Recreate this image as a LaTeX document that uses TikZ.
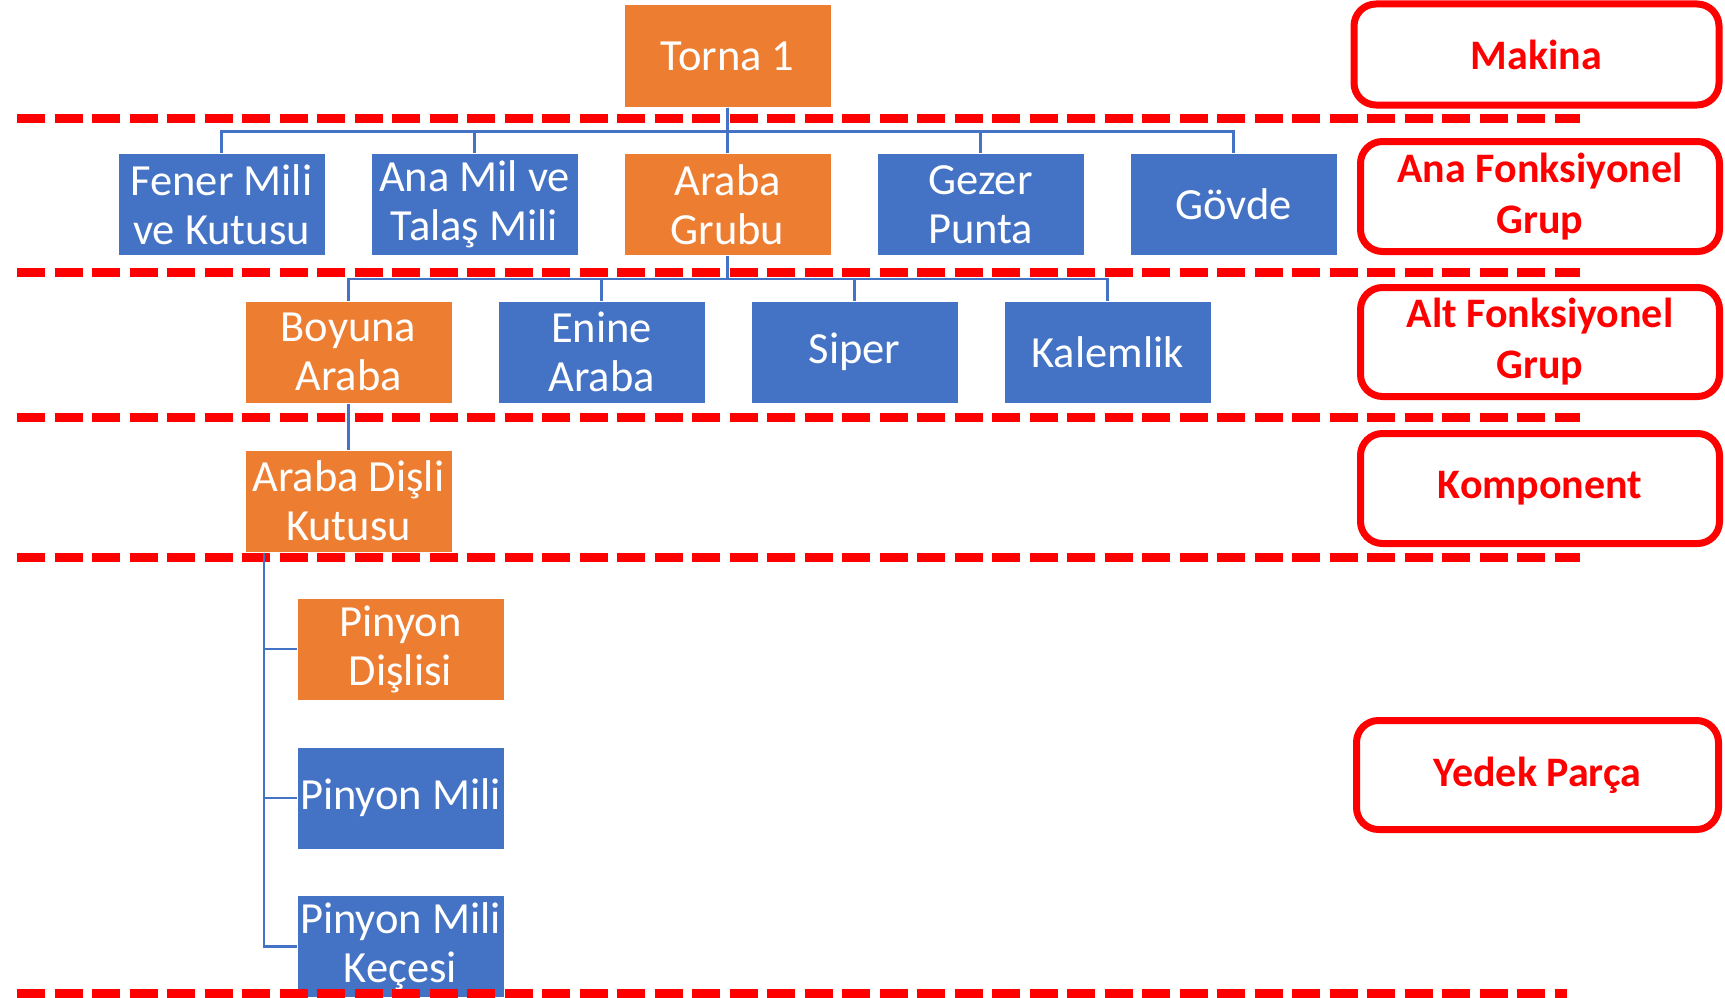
\documentclass[tikz,border=0pt]{standalone}
\usepackage{fontspec}
\setmainfont{Carlito}
\definecolor{orng}{HTML}{ED7D31}
\definecolor{blu}{HTML}{4472C4}
\definecolor{rd}{HTML}{FF0000}
\begin{document}
\begin{tikzpicture}[x=1pt,y=-1pt,
  box/.style={rectangle,draw=white,line width=1pt,minimum width=207pt,minimum height=102pt,inner sep=0pt,align=center,text=white,font=\fontsize{44.5}{49}\selectfont},
  obox/.style={box,fill=orng},
  bbox/.style={box,fill=blu},
  lbl/.style={rectangle,rounded corners=22pt,draw=rd,line width=7pt,inner sep=0pt,align=center,text=rd,font=\fontsize{42}{51}\selectfont\bfseries},
  sep/.style={draw=rd,line width=9pt,dash pattern=on 28pt off 9.5pt},
  conn/.style={draw=blu,line width=2.5pt}]
\useasboundingbox (0,0) rectangle (1725,998);
% level 0
\node[obox] (torna) at (727.5,56) {Torna 1};
% level 1
\node[bbox] (fener) at (221.5,204.5) {Fener Mili\\ve Kutusu};
\node[bbox] (anamil) at (474.5,204.5) {Ana Mil ve\\Talaş Mili};
\node[obox] (araba) at (727.5,204.5) {Araba\\Grubu};
\node[bbox] (gezer) at (980.5,204.5) {Gezer\\Punta};
\node[bbox] (govde) at (1233.5,204.5) {Gövde};
% level 2
\node[obox] (boyuna) at (348.5,352) {Boyuna\\Araba};
\node[bbox] (enine) at (601.5,352) {Enine\\Araba};
\node[bbox] (siper) at (854.5,352) {Siper};
\node[bbox] (kalem) at (1107.5,352) {Kalemlik};
% level 3
\node[obox] (adk) at (348.5,501) {Araba Dişli\\Kutusu};
% level 4
\node[obox] (pd) at (400.5,649) {Pinyon\\Dişlisi};
\node[bbox] (pm) at (400.5,798) {Pinyon Mili};
\node[bbox] (pk) at (400.5,946.5) {Pinyon Mili\\Keçesi};
% labels
\node[lbl,minimum width=365pt,minimum height=101pt] (makina) at (1536.5,54.5) {Makina};
\node[lbl,minimum width=359pt,minimum height=110pt] (anaf) at (1540,196.5) {Ana Fonksiyonel\\Grup};
\node[lbl,minimum width=359pt,minimum height=109pt] (altf) at (1540,342) {Alt Fonksiyonel\\Grup};
\node[lbl,minimum width=359pt,minimum height=110pt] (komp) at (1540,488.5) {Komponent};
\node[lbl,minimum width=362pt,minimum height=109pt] (yedek) at (1537.5,775) {Yedek Parça};
% separators
\coordinate (s1a) at (17,118); \coordinate (s1b) at (1580,118);
\coordinate (s2a) at (17,272); \coordinate (s2b) at (1580,272);
\coordinate (s3a) at (17,417); \coordinate (s3b) at (1580,417);
\coordinate (s4a) at (17,557); \coordinate (s4b) at (1580,557);
\coordinate (s5a) at (17,993); \coordinate (s5b) at (1567,993);
\draw[sep] (s1a) -- (s1b);
\draw[sep] (s2a) -- (s2b);
\draw[sep] (s3a) -- (s3b);
\draw[sep] (s4a) -- (s4b);
\draw[sep] (s5a) -- (s5b);
% connectors
\foreach \c in {fener,anamil,araba,gezer,govde}
  \draw[conn] (torna.south) -- ++(0,24) -| (\c.north);
\foreach \c in {boyuna,enine,siper,kalem}
  \draw[conn] (araba.south) -- ++(0,23) -| (\c.north);
\draw[conn] (boyuna.south) -- (adk.north);
\coordinate (trunk) at ([xshift=-84.5pt]adk.south);
\foreach \c in {pd,pm,pk}
  \draw[conn] (trunk) |- (\c.west);
\end{tikzpicture}
\end{document}
